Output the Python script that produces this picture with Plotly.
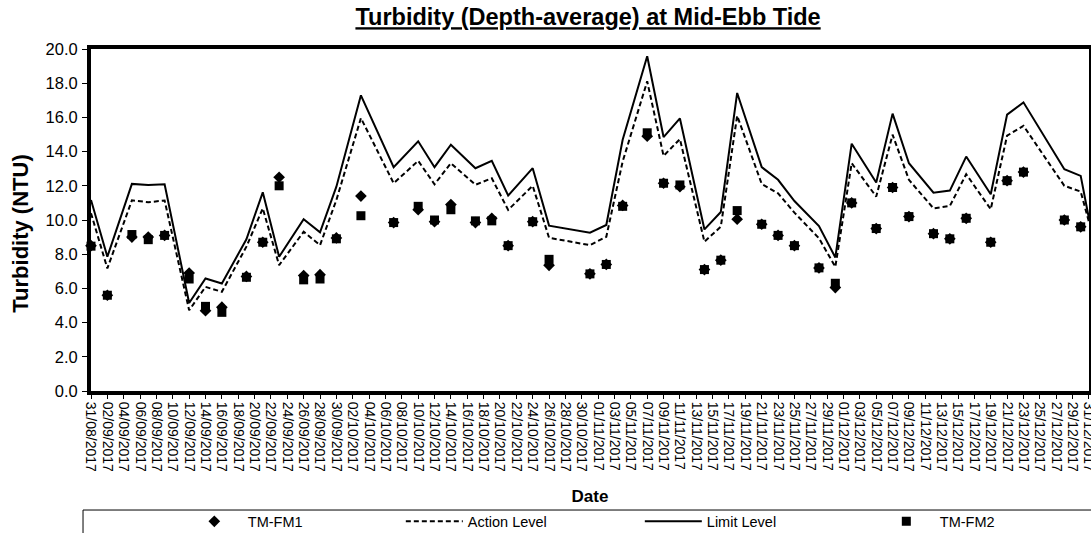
import plotly.graph_objects as go

# Sampling dates (measurement days)
dates = ["2017-08-31", "2017-09-02", "2017-09-05", "2017-09-07", "2017-09-09",
         "2017-09-12", "2017-09-14", "2017-09-16", "2017-09-19", "2017-09-21",
         "2017-09-23", "2017-09-26", "2017-09-28", "2017-09-30", "2017-10-03",
         "2017-10-07", "2017-10-10", "2017-10-12", "2017-10-14", "2017-10-17",
         "2017-10-19", "2017-10-21", "2017-10-24", "2017-10-26", "2017-10-31",
         "2017-11-02", "2017-11-04", "2017-11-07", "2017-11-09", "2017-11-11",
         "2017-11-14", "2017-11-16", "2017-11-18", "2017-11-21", "2017-11-23",
         "2017-11-25", "2017-11-28", "2017-11-30", "2017-12-02", "2017-12-05",
         "2017-12-07", "2017-12-09", "2017-12-12", "2017-12-14", "2017-12-16",
         "2017-12-19", "2017-12-21", "2017-12-23", "2017-12-28", "2017-12-30"]

level_dates = dates + ["2017-12-31"]

tm_fm1 = [8.5, 5.6, 9.0, 9.0, 9.1, 6.9, 4.7, 4.9, 6.7, 8.7,
          12.5, 6.75, 6.8, 8.95, 11.4, 9.85, 10.6, 9.9, 10.9, 9.85,
          10.1, 8.5, 9.9, 7.35, 6.85, 7.4, 10.85, 14.9, 12.15, 11.95,
          7.1, 7.65, 10.05, 9.75, 9.1, 8.5, 7.2, 6.05, 11.0, 9.5,
          11.9, 10.2, 9.2, 8.9, 10.1, 8.7, 12.3, 12.8, 10.0, 9.6]

tm_fm2 = [8.47, 5.6, 9.15, 8.85, 9.1, 6.55, 4.95, 4.6, 6.65, 8.7,
          12.0, 6.5, 6.55, 8.9, 10.25, 9.85, 10.8, 10.0, 10.6, 9.95,
          9.95, 8.5, 9.9, 7.7, 6.85, 7.4, 10.8, 15.1, 12.15, 12.05,
          7.1, 7.65, 10.55, 9.75, 9.1, 8.5, 7.2, 6.3, 11.0, 9.5,
          11.9, 10.2, 9.2, 8.9, 10.1, 8.7, 12.3, 12.8, 10.0, 9.6]

action_level = [10.4, 7.17, 11.15, 11.04, 11.14, 4.72, 6.09, 5.8, 8.44, 10.68,
                7.36, 9.31, 8.53, 11.17, 15.96, 12.15, 13.46, 12.09, 13.32, 12.06,
                12.44, 10.59, 12.0, 8.96, 8.53, 9.02, 13.42, 18.11, 13.75, 14.73,
                8.73, 9.61, 16.1, 12.11, 11.56, 10.43, 8.93, 7.26, 13.32, 11.37,
                14.99, 12.35, 10.68, 10.82, 12.68, 10.63, 14.93, 15.51, 12.0, 11.66,
                9.9]

limit_level = [11.17, 7.85, 12.11, 12.05, 12.09, 5.15, 6.58, 6.29, 8.87, 11.62,
               7.85, 10.04, 9.28, 11.95, 17.29, 13.09, 14.6, 13.09, 14.4, 13.03,
               13.46, 11.43, 13.03, 9.67, 9.26, 9.71, 14.69, 19.58, 14.85, 15.94,
               9.45, 10.47, 17.43, 13.09, 12.35, 11.11, 9.65, 7.81, 14.46, 12.19,
               16.22, 13.32, 11.6, 11.72, 13.71, 11.51, 16.16, 16.88, 12.97, 12.58,
               10.1]

FONT = "Liberation Sans, Arial, sans-serif"

fig = go.Figure()
fig.add_trace(go.Scatter(x=dates, y=tm_fm1, name="TM-FM1", mode="markers",
                         marker=dict(symbol="diamond", size=9, color="black"),
                         cliponaxis=False, legendwidth=148))
fig.add_trace(go.Scatter(x=level_dates, y=action_level, name="Action Level", mode="lines",
                         line=dict(color="black", width=2, dash="5px,3px"),
                         legendwidth=167))
fig.add_trace(go.Scatter(x=level_dates, y=limit_level, name="Limit Level", mode="lines",
                         line=dict(color="black", width=2), legendwidth=161))
fig.add_trace(go.Scatter(x=dates, y=tm_fm2, name="TM-FM2", mode="markers",
                         marker=dict(symbol="square", size=9, color="black"),
                         cliponaxis=False, legendwidth=60))

fig.update_layout(
    width=1091, height=533,
    margin=dict(l=91, r=2, t=49, b=142, autoexpand=False),
    paper_bgcolor="white", plot_bgcolor="white",
    font=dict(family=FONT, color="black", size=14),
    title=dict(text="<b><u>Turbidity (Depth-average) at Mid-Ebb Tide</u></b>",
               font=dict(family=FONT, size=23.5, color="black"),
               x=0.539, xanchor="center", xref="container",
               y=1 - 17 / 533, yanchor="middle", yref="container"),
    showlegend=True,
    legend=dict(orientation="h", x=0.090, xanchor="left", y=-0.3345, yanchor="top",
                bgcolor="rgba(0,0,0,0)", borderwidth=0,
                font=dict(family=FONT, size=14.5, color="black"),
                itemwidth=57, entrywidthmode="pixels",
                traceorder="normal"),
    shapes=[dict(type="rect", xref="paper", yref="paper",
                 x0=-0.008, x1=1.02, y0=-0.348, y1=-0.5,
                 line=dict(color="black", width=1), fillcolor="rgba(0,0,0,0)")],
    annotations=[dict(text="<b>Turbidity (NTU)</b>", xref="paper", yref="paper",
                      x=-0.0701, y=0.46, textangle=-90, showarrow=False,
                      xanchor="center", yanchor="middle",
                      font=dict(family=FONT, size=22, color="black"))],
)

fig.update_xaxes(
    type="date", range=["2017-08-31", "2017-12-31 00:20"],
    tick0="2017-08-31", dtick=2 * 86400000, tickformat="%d/%m/%Y",
    tickangle=90, tickfont=dict(family=FONT, size=14, color="black"),
    ticks="outside", ticklen=4, tickwidth=1, tickcolor="black",
    ticklabeloverflow="allow",
    showline=True, linewidth=4, linecolor="black", mirror=True,
    showgrid=False, zeroline=False, automargin=False,
    title=dict(text="<b>Date</b>", font=dict(family=FONT, size=17, color="black"), standoff=20),
)
fig.update_yaxes(
    range=[0, 20], dtick=2, tick0=0, tickformat=".1f",
    tickfont=dict(family=FONT, size=16.5, color="black"),
    ticks="outside", ticklen=5, tickwidth=1, tickcolor="black", ticklabelstandoff=1,
    showline=True, linewidth=4, linecolor="black", mirror=True,
    showgrid=False, zeroline=False, automargin=False,
)

fig.write_html("out.html", config={"displayModeBar": False},
               post_script="document.body.style.margin='0';")
